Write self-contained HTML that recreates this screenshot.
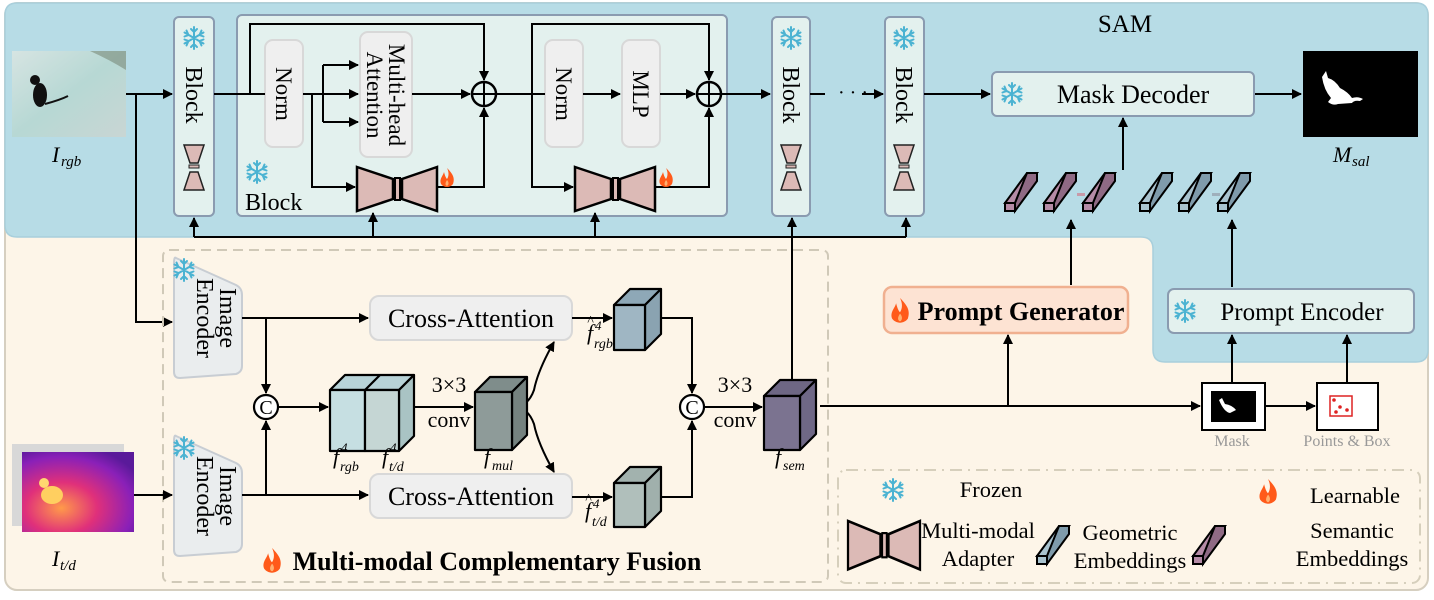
<!DOCTYPE html>
<html><head><meta charset="utf-8"><style>
html,body{margin:0;padding:0;background:#fff;}
svg{display:block;font-family:"Liberation Serif",serif;}
</style></head><body>
<svg width="1434" height="600" viewBox="0 0 1434 600" xmlns="http://www.w3.org/2000/svg">
<defs>
<marker id="a" markerWidth="10" markerHeight="10" refX="9" refY="5" orient="auto" markerUnits="userSpaceOnUse"><path d="M0,0 L10,5 L0,10 z" fill="#000"/></marker>
<g id="flame"><path d="M0,-10 C6,-4 8,0 6,6 C3,10 -3,10 -6,6 C-8,1 -4,-2 -3,-6 C-2,-2 -1,0 0,1 C2,-2 2,-6 0,-10z" fill="#ff5a1a"/><path d="M0,2 C2,4 2,7 0,8 C-2,7 -2,5 0,2z" fill="#ffb070"/></g>
<g id="sf" stroke="#4bb3d2" stroke-width="2" stroke-linecap="round" fill="none"><path d="M0,-11V11M-9.5,-5.5L9.5,5.5M-9.5,5.5L9.5,-5.5M-3,-9L0,-6L3,-9M-3,9L0,6L3,9M-9.5,-1.5L-5.5,-3L-7.5,-7.5M9.5,1.5L5.5,3L7.5,7.5M-9.5,1.5L-5.5,3L-7.5,7.5M9.5,-1.5L5.5,-3L7.5,-7.5"/></g>
<g id="ad"><path d="M0,0 L36,12 L36,32 L0,44z" fill="#dcbab6" stroke="#000" stroke-width="2.5"/><rect x="38" y="11" width="5" height="22" fill="#dcbab6" stroke="#000" stroke-width="2"/><path d="M80,0 L45,12 L45,32 L80,44z" fill="#dcbab6" stroke="#000" stroke-width="2.5"/></g>
<g id="sad"><path d="M0,0 L20,0 L14,18 L6,18z" fill="#dcbab6" stroke="#222" stroke-width="1.5"/><rect x="5" y="20" width="10" height="3" fill="#dcbab6" stroke="#222" stroke-width="1"/><path d="M0,45 L20,45 L14,27 L6,27z" fill="#dcbab6" stroke="#222" stroke-width="1.5"/></g>
<g id="semb"><path d="M0,30 L22,0 L32,0 L10,30z" fill="#b58ba6" stroke="#000" stroke-width="2"/><path d="M22,0 L32,0 L32,8 L10,38 L10,30z" fill="#8f6a84" stroke="#000" stroke-width="2"/><rect x="0" y="30" width="10" height="8" fill="#b58ba6" stroke="#000" stroke-width="2"/></g>
<g id="gemb"><path d="M0,30 L22,0 L32,0 L10,30z" fill="#a9c3cf" stroke="#000" stroke-width="2"/><path d="M22,0 L32,0 L32,8 L10,38 L10,30z" fill="#7f9bab" stroke="#000" stroke-width="2"/><rect x="0" y="30" width="10" height="8" fill="#a9c3cf" stroke="#000" stroke-width="2"/></g>
<linearGradient id="rgb" x1="0" y1="0" x2="1" y2="1"><stop offset="0" stop-color="#d6e4e2"/><stop offset="0.5" stop-color="#b7d8d4"/><stop offset="1" stop-color="#c9d6d4"/></linearGradient>
<radialGradient id="td" cx="0.35" cy="0.7" r="0.8"><stop offset="0" stop-color="#ff9a4a"/><stop offset="0.4" stop-color="#e0307a"/><stop offset="0.8" stop-color="#8a20b8"/><stop offset="1" stop-color="#5a1a9a"/></radialGradient>
</defs>

<rect x="5" y="3" width="1423" height="587" rx="12" fill="#fdf5e8" stroke="#d6cfc0" stroke-width="2"/>
<path d="M17,3 H1416 Q1428,3 1428,15 V350 Q1428,362 1416,362 H1165 Q1153,362 1153,350 V249 Q1153,237 1141,237 H17 Q5,237 5,225 V15 Q5,3 17,3z" fill="#b7dce6" stroke="#a8cfdc" stroke-width="1.5"/>
<text x="1125" y="32" font-size="25" text-anchor="middle">SAM</text>

<rect x="12" y="51" width="114" height="86" fill="url(#rgb)"/>
<path d="M90,51 L126,51 L126,70 Q110,60 90,51z" fill="#7a8a7a" opacity="0.6"/>
<ellipse cx="40" cy="95" rx="7" ry="12" fill="#111"/><circle cx="35" cy="80" r="5" fill="#111"/><path d="M45,104 Q60,100 68,96" stroke="#111" stroke-width="2" fill="none"/>
<text x="52" y="162" font-size="22" font-style="italic">I</text><text x="61" y="166" font-size="15" font-style="italic">rgb</text>

<g stroke="#000" stroke-width="2" fill="none">
<line x1="126" y1="94" x2="172" y2="94" marker-end="url(#a)"/>
<polyline points="136,94 136,322 172,322" marker-end="url(#a)"/>
</g>

<rect x="174" y="17" width="40" height="199" rx="5" fill="#e3f1ee" stroke="#8a9bb0" stroke-width="2"/>
<use href="#sf" x="194" y="38"/>
<text transform="translate(186,95) rotate(90)" font-size="24" text-anchor="middle">Block</text>
<use href="#sad" x="184" y="145"/>

<rect x="237" y="15" width="490" height="201" rx="5" fill="#e3f1ee" stroke="#8a9bb0" stroke-width="2"/>
<use href="#sf" x="257" y="172"/>
<text x="245" y="210" font-size="24">Block</text>
<rect x="265" y="40" width="38" height="107" rx="8" fill="#efefef" stroke="#d8d8d8" stroke-width="2"/>
<text transform="translate(276,94) rotate(90)" font-size="23" text-anchor="middle">Norm</text>
<rect x="360" y="32" width="52" height="125" rx="8" fill="#efefef" stroke="#d8d8d8" stroke-width="2"/>
<text transform="translate(389,95) rotate(90)" font-size="23" text-anchor="middle">Multi-head</text>
<text transform="translate(367,95) rotate(90)" font-size="23" text-anchor="middle">Attention</text>
<rect x="545" y="40" width="38" height="107" rx="8" fill="#efefef" stroke="#d8d8d8" stroke-width="2"/>
<text transform="translate(556,94) rotate(90)" font-size="23" text-anchor="middle">Norm</text>
<rect x="622" y="40" width="38" height="107" rx="8" fill="#efefef" stroke="#d8d8d8" stroke-width="2"/>
<text transform="translate(633,94) rotate(90)" font-size="23" text-anchor="middle">MLP</text>

<g stroke="#000" stroke-width="2" fill="none">
<line x1="214" y1="94" x2="265" y2="94"/>
<line x1="303" y1="94" x2="323" y2="94"/>
<polyline points="323,65 323,122"/>
<line x1="323" y1="65" x2="358" y2="65" marker-end="url(#a)"/>
<line x1="323" y1="94" x2="358" y2="94" marker-end="url(#a)"/>
<line x1="323" y1="122" x2="358" y2="122" marker-end="url(#a)"/>
<polyline points="312,94 312,187 355,187" marker-end="url(#a)"/>
<line x1="412" y1="94" x2="470" y2="94" marker-end="url(#a)"/>
<polyline points="250,94 250,24 484,24 484,80" marker-end="url(#a)"/>
<polyline points="436,187 484,187 484,108" marker-end="url(#a)"/>
<line x1="496" y1="94" x2="545" y2="94"/>
<line x1="583" y1="94" x2="620" y2="94" marker-end="url(#a)"/>
<line x1="660" y1="94" x2="695" y2="94" marker-end="url(#a)"/>
<polyline points="532,94 532,24 709,24 709,80" marker-end="url(#a)"/>
<polyline points="532,94 532,187 573,187" marker-end="url(#a)"/>
<polyline points="655,187 709,187 709,108" marker-end="url(#a)"/>
<line x1="721" y1="94" x2="770" y2="94" marker-end="url(#a)"/>
<circle cx="484" cy="94" r="12" stroke-width="2.5"/><path d="M472,94H496M484,82V106"/>
<circle cx="709" cy="94" r="12" stroke-width="2.5"/><path d="M697,94H721M709,82V106"/>
</g>
<use href="#ad" x="357" y="167"/>
<use href="#flame" x="447" y="178"/>
<use href="#ad" x="575" y="167"/>
<use href="#flame" x="666" y="178"/>

<rect x="772" y="17" width="38" height="199" rx="5" fill="#e3f1ee" stroke="#8a9bb0" stroke-width="2"/>
<use href="#sf" x="791" y="38"/>
<text transform="translate(783,95) rotate(90)" font-size="24" text-anchor="middle">Block</text>
<use href="#sad" x="781" y="145"/>
<rect x="885" y="17" width="39" height="199" rx="5" fill="#e3f1ee" stroke="#8a9bb0" stroke-width="2"/>
<use href="#sf" x="904" y="38"/>
<text transform="translate(896,95) rotate(90)" font-size="24" text-anchor="middle">Block</text>
<use href="#sad" x="894" y="145"/>

<g stroke="#000" stroke-width="2" fill="none">
<line x1="810" y1="94" x2="825" y2="94"/>
<line x1="862" y1="94" x2="883" y2="94" marker-end="url(#a)"/>
<line x1="924" y1="94" x2="990" y2="94" marker-end="url(#a)"/>
<line x1="1254" y1="94" x2="1301" y2="94" marker-end="url(#a)"/>
<polyline points="194,237 906,237"/>
<line x1="194" y1="237" x2="194" y2="218" marker-end="url(#a)"/>
<line x1="373" y1="237" x2="373" y2="213" marker-end="url(#a)"/>
<line x1="595" y1="237" x2="595" y2="213" marker-end="url(#a)"/>
<line x1="906" y1="237" x2="906" y2="218" marker-end="url(#a)"/>
<line x1="792" y1="380" x2="792" y2="218" marker-end="url(#a)"/>
<line x1="1123" y1="170" x2="1123" y2="118" marker-end="url(#a)"/>
<line x1="1071" y1="285" x2="1071" y2="220" marker-end="url(#a)"/>
<line x1="1232" y1="287" x2="1232" y2="220" marker-end="url(#a)"/>
</g>
<text x="838" y="99" font-size="20">· · ·</text>

<rect x="992" y="72" width="262" height="44" rx="5" fill="#e3f1ee" stroke="#8a9bb0" stroke-width="2"/>
<use href="#sf" x="1012" y="94"/>
<text x="1133" y="103" font-size="26" text-anchor="middle">Mask Decoder</text>

<rect x="1303" y="51" width="115" height="86" fill="#000"/>
<path d="M1322,77 L1326,71 L1328,78 Q1335,80 1340,88 Q1348,92 1352,98 Q1358,96 1363,99 L1360,101 Q1354,100 1352,103 L1338,104 Q1333,106 1328,102 L1331,98 Q1324,90 1322,77z" fill="#fff"/>
<text x="1333" y="162" font-size="22" font-style="italic">M</text><text x="1352" y="166" font-size="15" font-style="italic">sal</text>

<use href="#semb" x="1005" y="173"/><use href="#semb" x="1044" y="173"/><use href="#semb" x="1083" y="173"/>
<use href="#gemb" x="1140" y="173"/><use href="#gemb" x="1179" y="173"/><use href="#gemb" x="1218" y="173"/>
<rect x="1077" y="193" width="8" height="3" fill="#c89aa8"/><rect x="1212" y="193" width="8" height="3" fill="#9fb0bc"/>

<rect x="884" y="287" width="244" height="46" rx="8" fill="#fde3d3" stroke="#f0b090" stroke-width="2.5"/>
<use href="#flame" transform="translate(900,311) scale(1.3)"/>
<text x="1021" y="320" font-size="26" font-weight="bold" text-anchor="middle">Prompt Generator</text>
<rect x="1168" y="289" width="246" height="44" rx="6" fill="#e3f1ee" stroke="#8a9bb0" stroke-width="2"/>
<use href="#sf" x="1185" y="311"/>
<text x="1302" y="320" font-size="25" text-anchor="middle">Prompt Encoder</text>

<rect x="1202" y="383" width="63" height="47" fill="#fff" stroke="#000" stroke-width="2"/>
<rect x="1211" y="391" width="45" height="31" fill="#000"/>
<path d="M1219,400 L1222,398 L1225,404 Q1232,405 1236,410 L1230,413 Q1224,412 1219,400z" fill="#fff"/>
<text x="1232" y="446" font-size="16" fill="#999" text-anchor="middle">Mask</text>
<rect x="1317" y="383" width="61" height="47" fill="#fff" stroke="#000" stroke-width="2"/>
<rect x="1330" y="396" width="22" height="20" fill="none" stroke="#d22" stroke-width="1.5"/>
<circle cx="1334" cy="400" r="1.8" fill="#d22"/><circle cx="1340" cy="407" r="1.8" fill="#d22"/><circle cx="1336" cy="412" r="1.8" fill="#d22"/><circle cx="1347" cy="410" r="1.8" fill="#d22"/>
<text x="1347" y="446" font-size="16" fill="#999" text-anchor="middle">Points &amp; Box</text>

<g stroke="#000" stroke-width="2" fill="none">
<line x1="820" y1="406" x2="1200" y2="406" marker-end="url(#a)"/>
<line x1="1008" y1="406" x2="1008" y2="335" marker-end="url(#a)"/>
<line x1="1265" y1="406" x2="1315" y2="406" marker-end="url(#a)"/>
<line x1="1232" y1="383" x2="1232" y2="335" marker-end="url(#a)"/>
<line x1="1347" y1="383" x2="1347" y2="335" marker-end="url(#a)"/>
</g>

<rect x="163" y="250" width="665" height="332" rx="6" fill="none" stroke="#d0c9b8" stroke-width="2" stroke-dasharray="10,6"/>
<path d="M176,258 L236,285 Q242,288 242,295 L242,366 Q242,372 236,374 L180,378 Q174,378 174,372 L174,264 Q174,256 176,258z" fill="#eaedee" stroke="#c8cdd3" stroke-width="2"/>
<use href="#sf" x="184" y="270"/>
<text transform="translate(220,318) rotate(90)" font-size="24" text-anchor="middle">Image</text>
<text transform="translate(197,318) rotate(90)" font-size="24" text-anchor="middle">Encoder</text>
<path d="M176,436 L236,463 Q242,466 242,473 L242,544 Q242,550 236,552 L180,556 Q174,556 174,550 L174,442 Q174,434 176,436z" fill="#eaedee" stroke="#c8cdd3" stroke-width="2"/>
<use href="#sf" x="184" y="448"/>
<text transform="translate(220,496) rotate(90)" font-size="24" text-anchor="middle">Image</text>
<text transform="translate(197,496) rotate(90)" font-size="24" text-anchor="middle">Encoder</text>

<rect x="370" y="296" width="202" height="44" rx="9" fill="#efefef" stroke="#d8d8d8" stroke-width="2"/>
<text x="471" y="327" font-size="26" text-anchor="middle">Cross-Attention</text>
<rect x="370" y="474" width="202" height="44" rx="9" fill="#efefef" stroke="#d8d8d8" stroke-width="2"/>
<text x="471" y="505" font-size="26" text-anchor="middle">Cross-Attention</text>

<g stroke="#000" stroke-width="2" fill="none">
<line x1="242" y1="318" x2="368" y2="318" marker-end="url(#a)"/>
<line x1="242" y1="495" x2="368" y2="495" marker-end="url(#a)"/>
<line x1="266" y1="318" x2="266" y2="393" marker-end="url(#a)"/>
<line x1="266" y1="495" x2="266" y2="421" marker-end="url(#a)"/>
<line x1="278" y1="407" x2="328" y2="407" marker-end="url(#a)"/>
<line x1="400" y1="407" x2="473" y2="407" marker-end="url(#a)"/>
<path d="M513,407 Q528,407 534,390 Q538,370 554,342" marker-end="url(#a)"/>
<path d="M513,407 Q528,407 534,424 Q538,444 554,472" marker-end="url(#a)"/>
<line x1="572" y1="318" x2="612" y2="318" marker-end="url(#a)"/>
<line x1="572" y1="497" x2="612" y2="497" marker-end="url(#a)"/>
<polyline points="660,318 692,318 692,393" marker-end="url(#a)"/>
<polyline points="660,497 692,497 692,421" marker-end="url(#a)"/>
<line x1="704" y1="407" x2="762" y2="407" marker-end="url(#a)"/>
<line x1="134" y1="495" x2="172" y2="495" marker-end="url(#a)"/>
</g>
<g stroke="#000" stroke-width="2.2" fill="#fff">
<circle cx="266" cy="407" r="12"/><circle cx="692" cy="407" r="12"/>
</g>
<text x="266" y="414" font-size="20" text-anchor="middle">C</text>
<text x="692" y="414" font-size="20" text-anchor="middle">C</text>

<g stroke="#000" stroke-width="2.2" stroke-linejoin="round">
<path d="M330,390 L345,375 L414,375 L399,390z" fill="#b8d3d8"/>
<path d="M399,390 L414,375 L414,436 L399,451z" fill="#a9c3c4"/>
<rect x="330" y="390" width="35" height="61" fill="#c6dfe2"/>
<rect x="365" y="390" width="34" height="61" fill="#c5d6d4"/>
<line x1="365" y1="390" x2="380" y2="375"/>
<path d="M475,392 L490,377 L527,377 L512,392z" fill="#7f8d8b"/>
<path d="M512,392 L527,377 L527,435 L512,450z" fill="#75827f"/>
<rect x="475" y="392" width="37" height="58" fill="#8e9b99"/>
<path d="M614,305 L630,289 L661,289 L645,305z" fill="#8ea8b7"/>
<path d="M645,305 L661,289 L661,334 L645,350z" fill="#8aa3b1"/>
<rect x="614" y="305" width="31" height="45" fill="#9fb6c3"/>
<path d="M614,483 L630,467 L661,467 L645,483z" fill="#a2b2ae"/>
<path d="M645,483 L661,467 L661,511 L645,527z" fill="#a0b0ac"/>
<rect x="614" y="483" width="31" height="44" fill="#b0bfbb"/>
<path d="M764,396 L780,380 L816,380 L800,396z" fill="#6e6784"/>
<path d="M800,396 L816,380 L816,434 L800,450z" fill="#6f6886"/>
<rect x="764" y="396" width="36" height="54" fill="#7b7390"/>
</g>
<text x="449" y="392" font-size="22" text-anchor="middle">3×3</text>
<text x="449" y="427" font-size="22" text-anchor="middle">conv</text>
<text x="735" y="392" font-size="22" text-anchor="middle">3×3</text>
<text x="735" y="427" font-size="22" text-anchor="middle">conv</text>
<g font-style="italic">
<text x="333" y="464" font-size="22">f</text><text x="341" y="452" font-size="13">4</text><text x="340" y="471" font-size="14">rgb</text>
<text x="382" y="464" font-size="22">f</text><text x="390" y="452" font-size="13">4</text><text x="389" y="471" font-size="14">t/d</text>
<text x="484" y="464" font-size="22">f</text><text x="492" y="470" font-size="14">mul</text>
<text x="587" y="340" font-size="22">f</text><text x="587" y="325" font-size="14">^</text><text x="595" y="330" font-size="13">4</text><text x="594" y="348" font-size="14">rgb</text>
<text x="585" y="518" font-size="22">f</text><text x="585" y="503" font-size="14">^</text><text x="593" y="508" font-size="13">4</text><text x="592" y="526" font-size="14">t/d</text>
<text x="775" y="464" font-size="22">f</text><text x="783" y="470" font-size="14">sem</text>
</g>
<use href="#flame" transform="translate(272,561) scale(1.3)"/>
<text x="497" y="570" font-size="26" font-weight="bold" text-anchor="middle">Multi-modal Complementary Fusion</text>

<rect x="12" y="444" width="112" height="82" fill="#d8d8d8"/>
<rect x="22" y="452" width="112" height="80" fill="url(#td)"/>
<ellipse cx="52" cy="495" rx="11" ry="9" fill="#ffcf60"/><circle cx="44" cy="483" r="5" fill="#ffd870"/>
<text x="52" y="566" font-size="22" font-style="italic">I</text><text x="60" y="570" font-size="15" font-style="italic">t/d</text>

<rect x="838" y="470" width="582" height="113" rx="8" fill="none" stroke="#d6cfbc" stroke-width="2" stroke-dasharray="12,6,2,6"/>
<use href="#sf" x="893" y="490"/>
<text x="991" y="497" font-size="22.5" text-anchor="middle">Frozen</text>
<use href="#flame" transform="translate(1268,492) scale(1.3)"/>
<text x="1355" y="503" font-size="22.5" text-anchor="middle">Learnable</text>
<g transform="translate(848,521) scale(0.9,1.1)"><use href="#ad"/></g>
<text x="978" y="538" font-size="22.5" text-anchor="middle">Multi-modal</text>
<text x="978" y="566" font-size="22.5" text-anchor="middle">Adapter</text>
<use href="#gemb" x="1037" y="526"/>
<text x="1130" y="540" font-size="22.5" text-anchor="middle">Geometric</text>
<text x="1130" y="568" font-size="22.5" text-anchor="middle">Embeddings</text>
<use href="#semb" x="1193" y="526"/>
<text x="1352" y="538" font-size="22.5" text-anchor="middle">Semantic</text>
<text x="1352" y="566" font-size="22.5" text-anchor="middle">Embeddings</text>
</svg>
</body></html>
